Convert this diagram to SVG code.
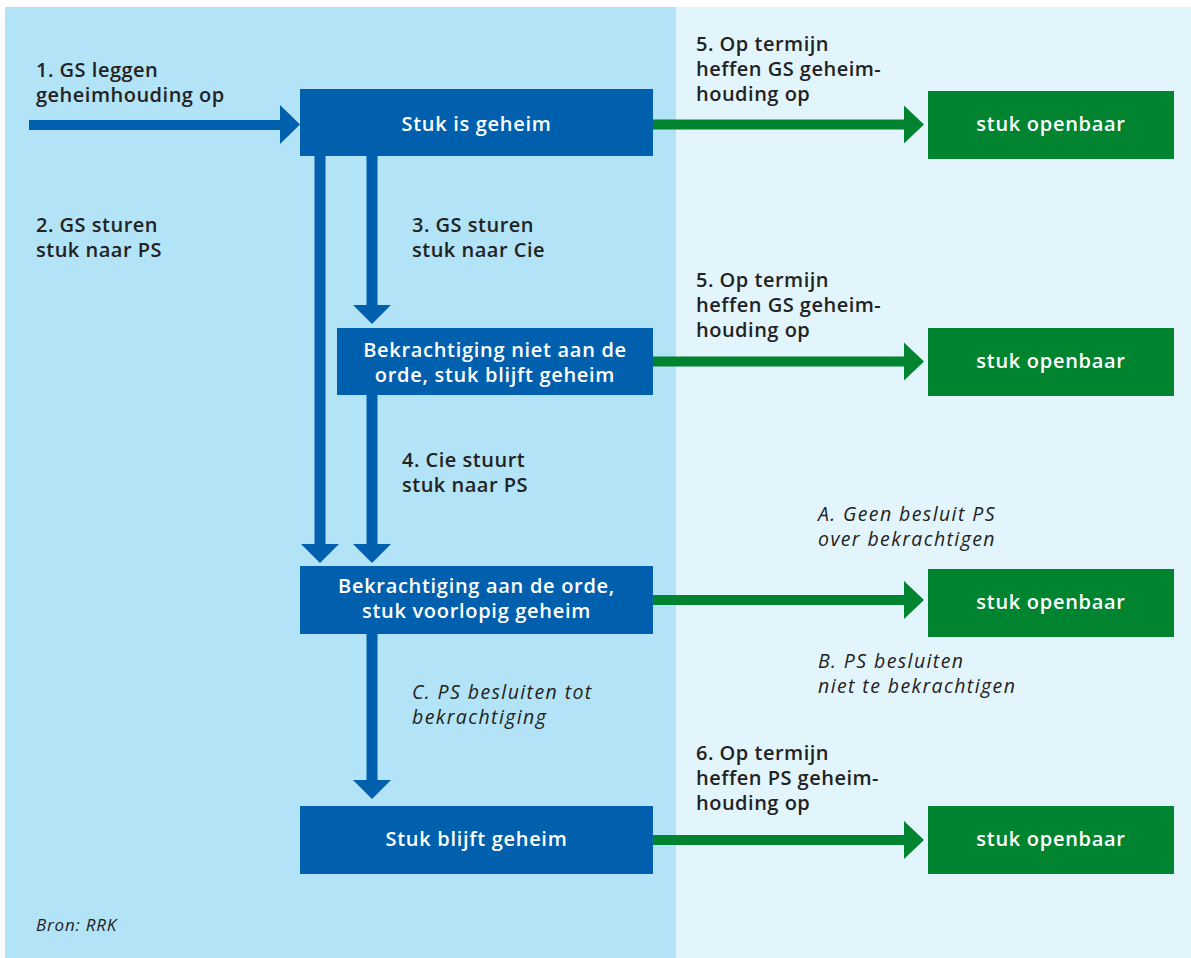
<svg xmlns="http://www.w3.org/2000/svg" width="1191" height="958" viewBox="0 0 1191 958">
<style>
.lbl{font-family:"Open Sans","Liberation Sans",sans-serif;font-weight:600;font-size:20px;letter-spacing:0.5px;fill:#222}
.it{font-family:"Open Sans","Liberation Sans",sans-serif;font-style:italic;font-size:19.5px;letter-spacing:1.4px;fill:#222}
.bt{font-family:"Open Sans","Liberation Sans",sans-serif;font-weight:600;font-size:20px;letter-spacing:0.7px;fill:#fff;text-anchor:middle}
.blue{fill:#0060ae}
.green{fill:#00842f}
</style>
<rect x="0" y="0" width="1191" height="958" fill="#fff"/>
<rect x="5" y="7" width="671" height="951" fill="#b3e3f6"/>
<rect x="676" y="7" width="515" height="951" fill="#e3f5fc"/>
<g id="connectors">
  <rect class="blue" x="29" y="120" width="252" height="10"/>
  <polygon class="blue" points="280,105 300,124.5 280,144"/>
  <rect class="blue" x="314.5" y="156" width="11" height="389"/>
  <polygon class="blue" points="301,544 339,544 320,563"/>
  <rect class="blue" x="366.5" y="156" width="11" height="150"/>
  <polygon class="blue" points="353,305 391,305 372,324"/>
  <rect class="blue" x="366.5" y="395" width="11" height="150"/>
  <polygon class="blue" points="353,544 391,544 372,563"/>
  <rect class="blue" x="366.5" y="633" width="11" height="148"/>
  <polygon class="blue" points="353,780 391,780 372,799"/>
  <rect class="green" x="653" y="119.5" width="252" height="10"/>
  <polygon class="green" points="904,105.5 924,124.5 904,143.5"/>
  <rect class="green" x="653" y="356.5" width="252" height="10"/>
  <polygon class="green" points="904,342.5 924,361.5 904,380.5"/>
  <rect class="green" x="653" y="595" width="252" height="10"/>
  <polygon class="green" points="904,581 924,600 904,619"/>
  <rect class="green" x="653" y="835" width="252" height="10"/>
  <polygon class="green" points="904,821 924,840 904,859"/>
  <text class="lbl" x="36" y="77">1. GS leggen</text>
  <text class="lbl" x="36" y="102">geheimhouding op</text>
  <text class="lbl" x="36" y="232">2. GS sturen</text>
  <text class="lbl" x="36" y="257">stuk naar PS</text>
  <text class="lbl" x="412" y="232">3. GS sturen</text>
  <text class="lbl" x="412" y="257">stuk naar Cie</text>
  <text class="lbl" x="402" y="467">4. Cie stuurt</text>
  <text class="lbl" x="402" y="492">stuk naar PS</text>
  <text class="lbl" x="696" y="51">5. Op termijn</text>
  <text class="lbl" x="696" y="76">heffen GS geheim-</text>
  <text class="lbl" x="696" y="101">houding op</text>
  <text class="lbl" x="696" y="287">5. Op termijn</text>
  <text class="lbl" x="696" y="312">heffen GS geheim-</text>
  <text class="lbl" x="696" y="337">houding op</text>
  <text class="lbl" x="696" y="760">6. Op termijn</text>
  <text class="lbl" x="696" y="785">heffen PS geheim-</text>
  <text class="lbl" x="696" y="810">houding op</text>
  <text class="it" x="818" y="521">A. Geen besluit PS</text>
  <text class="it" x="818" y="546">over bekrachtigen</text>
  <text class="it" x="818" y="668">B. PS besluiten</text>
  <text class="it" x="818" y="693">niet te bekrachtigen</text>
  <text class="it" x="412" y="699">C. PS besluiten tot</text>
  <text class="it" x="412" y="724">bekrachtiging</text>
</g>
<g id="n1"><rect class="blue" x="300" y="89" width="353" height="67"/><text class="bt" x="476.5" y="131">Stuk is geheim</text></g>
<g id="n2"><rect class="blue" x="337" y="328" width="316" height="67"/><text class="bt" x="495" y="357">Bekrachtiging niet aan de</text><text class="bt" x="495" y="382">orde, stuk blijft geheim</text></g>
<g id="n3"><rect class="blue" x="300" y="566" width="353" height="68"/><text class="bt" x="476.5" y="593">Bekrachtiging aan de orde,</text><text class="bt" x="476.5" y="618">stuk voorlopig geheim</text></g>
<g id="n4"><rect class="blue" x="300" y="806" width="353" height="68"/><text class="bt" x="476.5" y="846">Stuk blijft geheim</text></g>
<g id="g1"><rect class="green" x="928" y="91" width="246" height="68"/><text class="bt" x="1051" y="131">stuk openbaar</text></g>
<g id="g2"><rect class="green" x="928" y="328" width="246" height="68"/><text class="bt" x="1051" y="368">stuk openbaar</text></g>
<g id="g3"><rect class="green" x="928" y="569" width="246" height="68"/><text class="bt" x="1051" y="609">stuk openbaar</text></g>
<g id="g4"><rect class="green" x="928" y="806" width="246" height="68"/><text class="bt" x="1051" y="846">stuk openbaar</text></g>
<text x="36" y="931" font-family="Open Sans, Liberation Sans, sans-serif" font-style="italic" font-size="17" letter-spacing="0.8" fill="#222">Bron: RRK</text>
</svg>
